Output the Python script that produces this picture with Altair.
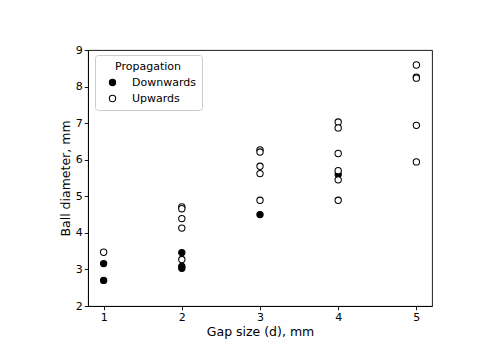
import altair as alt
import pandas as pd

down_x = [1, 1, 2, 2, 2, 3, 4]
down_y = [3.16, 2.70, 3.46, 3.08, 3.03, 4.50, 5.60]

up_x = [1, 2, 2, 2, 2, 2, 3, 3, 3, 3, 3, 4, 4, 4, 4, 4, 4, 5, 5, 5, 5, 5]
up_y = [3.47, 4.71, 4.66, 4.39, 4.13, 3.27,
        6.27, 6.21, 5.82, 5.62, 4.89,
        7.03, 6.87, 6.17, 5.70, 5.45, 4.89,
        8.59, 8.26, 8.23, 6.94, 5.94]

rows = [{"gap": x, "diam": y, "Propagation": "Downwards"} for x, y in zip(down_x, down_y)]
rows += [{"gap": x, "diam": y, "Propagation": "Upwards"} for x, y in zip(up_x, up_y)]
df = pd.DataFrame(rows)

FONT = "DejaVu Sans"

chart = alt.Chart(df).mark_point(
    shape="circle", filled=True, stroke="black", strokeWidth=1.05, size=40, opacity=1
).encode(
    x=alt.X("gap:Q", title="Gap size (d), mm",
            scale=alt.Scale(domain=[0.8, 5.2], nice=False, zero=False),
            axis=alt.Axis(values=[1, 2, 3, 4, 5], format="d")),
    y=alt.Y("diam:Q", title="Ball diameter, mm",
            scale=alt.Scale(domain=[2, 9], nice=False, zero=False),
            axis=alt.Axis(values=[2, 3, 4, 5, 6, 7, 8, 9], format="d")),
    fill=alt.Fill("Propagation:N",
                  scale=alt.Scale(domain=["Downwards", "Upwards"], range=["black", "white"]),
                  legend=alt.Legend(
                      orient="none", legendX=7, legendY=5,
                      title="Propagation", titleAnchor="middle", titleAlign="center",
                      titleFont=FONT, titleFontSize=11, titleFontWeight="normal", titleColor="black",
                      labelFont=FONT, labelFontSize=11, labelColor="black",
                      symbolType="circle", symbolSize=40, symbolStrokeColor="black",
                      symbolStrokeWidth=1.05, symbolOpacity=1,
                      fillColor="white", strokeColor="#cccccc", cornerRadius=3,
                      padding=6, rowPadding=4, labelOffset=14, titlePadding=5,
                      symbolOffset=6,
                  )),
).properties(
    width=344, height=256,
    padding={"left": 80, "top": 42, "right": 10, "bottom": 40},
    autosize=alt.AutoSizeParams(type="none"),
).configure_view(
    stroke="black", strokeWidth=0.9
).configure_axis(
    grid=False, domainColor="black", domainWidth=0.9, tickColor="black", tickWidth=0.9,
    tickSize=3.8, labelFont=FONT, labelFontSize=11, labelColor="black", labelPadding=2,
    titleFont=FONT, titleFontSize=12.5, titleFontWeight="normal", titleColor="black",
).configure_axisX(titlePadding=3).configure_axisY(titlePadding=3)

chart.save("out.html", embed_options={"renderer": "svg", "actions": False})
